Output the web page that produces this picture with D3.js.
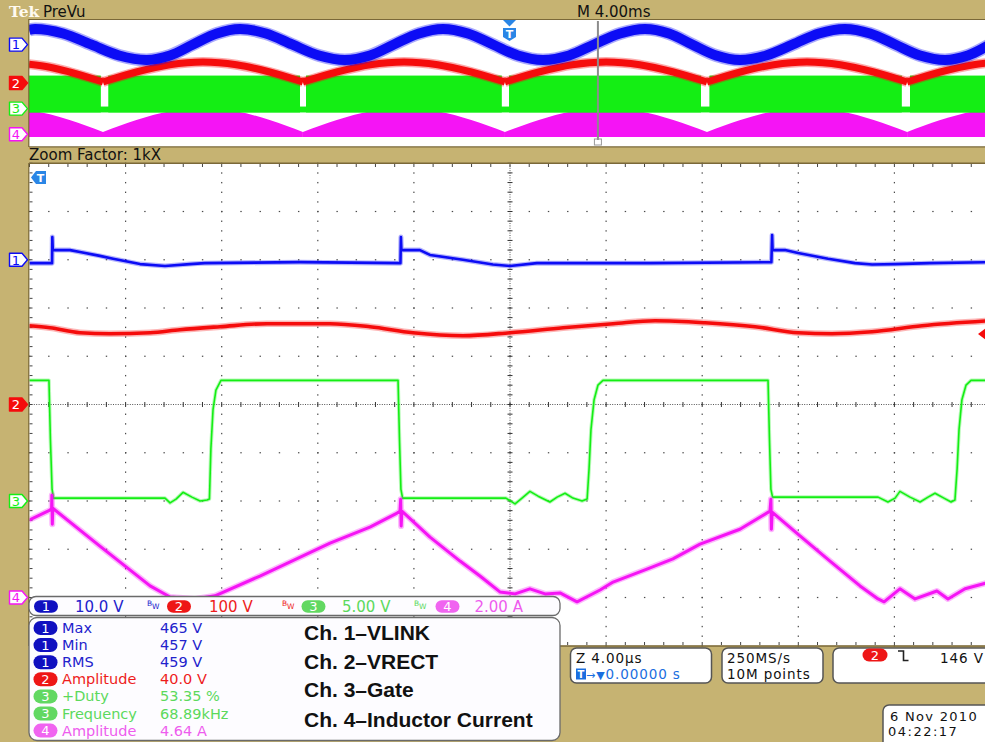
<!DOCTYPE html>
<html><head><meta charset="utf-8">
<script src="https://cdn.jsdelivr.net/npm/d3@7/dist/d3.min.js"></script>
<style>
html,body{margin:0;padding:0;background:#c6b372;overflow:hidden}
svg{display:block}
text{font-family:"DejaVu Sans",sans-serif}
</style></head><body>
<svg id="scope" width="985" height="742"></svg>
<script>
// ================= DATA =================
const channelNames  = ["1", "2", "3", "4"];
const channelScale  = [10, 100, 5, 2];        // units per division
const channelUnit   = ["V", "V", "V", "A"];
const channelPos    = [3, 0, -2, -4];         // marker position (divisions)
const channelOffset = [459.5, 0, 0, 0];       // value at the marker
const mainDivUs = 4;      // Z 4.00 µs/div
const prevDivMs = 4;      // M 4.00 ms/div
const zoomPosMs = 3.68;   // zoom window position in the record
const trigLevelV = 146;   // ch2 trigger level

// ---- zoomed traces: time (µs) and value ----
const ch1T = [-20.02,-19.06,-19.05,-19.03,-18.31,-17.90,-17.07,-16.52,-15.40,-14.36,-13.32,-12.70,-8.74,-4.56,-4.54,-4.52,-3.75,-3.33,-1.96,-0.71,0,1.12,5.83,10.88,10.91,10.93,11.45,11.99,13.24,14.36,15.07,16.03,17.48,19.98];
const ch1V = [458.8,458.8,464.2,461.5,461.5,461.1,460.3,459.7,458.6,458.2,458.6,458.8,459.0,458.8,464.2,461.5,461.5,460.5,459.5,458.5,458.2,458.8,458.8,459.0,464.6,461.5,461.5,460.9,459.7,458.8,458.5,458.6,458.8,459.0];

const ch2T = [-20.02,-19.15,-17.90,-16.65,-14.98,-13.74,-12.07,-10.11,-7.49,-5.83,-4.04,-1.96,0,2.21,4.29,6.04,8.12,10.20,11.99,13.40,15.07,17.15,19.98];
const ch2V = [163.2,159.1,148.8,146.7,148.8,155.0,161.2,167.4,167.4,161.2,148.8,142.6,148.8,159.1,167.4,173.6,169.4,161.2,148.8,146.7,150.8,163.2,173.6];

const ch3T = [-20.02,-19.19,-19.13,-19.06,-19.00,-14.36,-14.15,-13.90,-13.61,-13.24,-12.90,-12.61,-12.51,-12.45,-12.36,-12.24,-12.03,-4.66,-4.60,-4.54,-4.47,-0.17,0.21,0.50,0.83,1.17,1.66,1.96,2.29,2.62,3.00,3.21,3.29,3.37,3.50,3.66,3.87,10.74,10.80,10.86,10.93,15.32,15.73,16.03,16.23,16.65,17.07,17.40,17.69,18.06,18.36,18.52,18.61,18.69,18.81,18.98,19.19,19.98];
const ch3V = [12.5,12.5,6.4,1.2,0.3,0.3,-0.2,0.2,0.9,0.4,0.0,0.1,0.2,5.4,9.5,11.5,12.5,12.5,6.4,1.2,0.3,0.3,-0.3,0.3,1.0,0.5,-0.1,0.4,0.8,0.3,0.0,0.2,3.3,7.4,10.5,12.0,12.5,12.5,6.4,1.2,0.4,0.4,-0.1,0.3,1.0,0.4,-0.1,0.4,0.8,0.3,-0.1,0.1,3.3,7.4,10.5,12.0,12.5,12.5];

const ch4T = [-20.02,-19.15,-19.08,-19.07,-19.05,-19.03,-17.07,-14.98,-14.15,-13.11,-12.28,-10.41,-7.49,-5.83,-4.70,-4.58,-4.55,-4.53,-4.50,-3.33,-2.08,-1.25,-0.42,0.21,0.83,1.46,2.08,2.79,3.75,4.29,5.70,6.78,7.91,9.57,10.82,10.86,10.88,10.91,12.07,13.32,14.57,15.32,15.57,16.23,16.86,17.77,18.23,18.94,19.98];
const ch4A = [3.21,3.62,3.70,4.24,3.04,3.70,2.13,0.48,0.02,-0.06,0.07,0.89,2.25,2.92,3.50,3.58,4.07,2.96,3.58,2.50,1.51,0.89,0.23,0.15,0.36,0.15,0.19,-0.18,0.31,0.64,1.18,1.60,2.21,2.83,3.58,4.07,2.83,3.54,2.55,1.51,0.48,-0.06,-0.18,0.36,-0.06,0.27,-0.06,0.36,0.64];

// ---- PreVu (whole record): time (ms) and value ----
const prevBlueT = [-20.00,-19.75,-18.58,-17.42,-16.25,-15.09,-14.13,-13.17,-12.18,-11.22,-10.14,-9.05,-7.93,-6.85,-5.81,-4.81,-3.77,-2.77,-1.73,-0.69,0.35,1.39,2.48,3.52,4.60,5.64,6.64,7.60,8.60,9.59,10.68,11.80,12.88,13.96,15.01,16.05,17.09,18.13,19.08,20.00];
const ch1PrevV = [470.9,471.7,468.2,459.6,451.0,447.5,451.0,459.6,468.2,471.7,468.2,459.6,451.0,447.5,451.0,459.6,468.2,471.7,468.2,459.6,451.0,447.5,451.0,459.6,468.2,471.7,468.2,459.6,451.0,447.5,451.0,459.6,468.2,471.7,468.2,459.6,451.0,447.5,451.0,459.6];

const prevArchT = [-20.00,-19.13,-18.31,-16.92,-15.53,-14.14,-12.76,-11.37,-9.98,-8.60,-7.19,-5.79,-4.39,-2.99,-1.59,-0.19,1.22,2.61,4.02,5.42,6.82,8.22,9.61,11.00,12.38,13.77,15.16,16.55,17.93,19.32,20.00];
const prevCusps = [-16.92,-8.60,-0.19,8.22,16.55];
const ch2PrevV  = [146,123,86,8,86,143,164,143,86,8,86,143,164,143,86,8,86,143,164,143,86,8,86,143,164,143,86,8,86,143,159];
const ch4PrevTop = [3.78,3.12,2.22,0.34,2.22,3.59,4.11,3.59,2.22,0.34,2.22,3.59,4.11,3.59,2.22,0.34,2.22,3.59,4.11,3.59,2.22,0.34,2.22,3.59,4.11,3.59,2.22,0.34,2.22,3.59,4.00];
const ch4PrevMin = -0.44;

const gateGapStart = [-17.01,-8.72,-0.32,7.97,16.33];
const gateGapEnd   = [-16.70,-8.47,-0.02,8.32,16.67];
const ch3PrevMax = 12.9, ch3PrevMin = -1.5, ch3PrevGapTop = 0.8;

// ---- measurements / readouts ----
const measCh    = [1, 1, 1, 2, 3, 3, 4];
const measName  = ["Max", "Min", "RMS", "Amplitude", "+Duty", "Frequency", "Amplitude"];
const measValue = ["465 V", "457 V", "459 V", "40.0 V", "53.35 %", "68.89kHz", "4.64 A"];
const signalLabels = ["Ch. 1\u2013VLINK", "Ch. 2\u2013VRECT", "Ch. 3\u2013Gate", "Ch. 4\u2013Inductor Current"];
const sampleRate = "250MS/s", recordLen = "10M points";
const dateText = "6 Nov 2010", timeText = "04:22:17";

// ================= DRAWING =================
const TAN = "#c6b372", EDGE = "#7a6838";
const trace = ["#0c0cf5", "#f50c0c", "#14ee14", "#f514f5"];
const txtCol = ["#2222cc", "#ee1c1c", "#5cd95c", "#ee5cee"];
const pillCol = ["#1010c0", "#ee1616", "#62d862", "#f064f0"];
const svg = d3.select("#scope");

const xMain = d3.scaleLinear().domain([-5 * mainDivUs, 5 * mainDivUs]).range([29.5, 990.5]);
const yMain = d3.scaleLinear().domain([-5, 5]).range([645.75, 163.25]);
const xPrev = d3.scaleLinear().domain([-5 * prevDivMs, 5 * prevDivMs]).range([29, 990]);
const yPrev = d3.scaleLinear().domain([-5, 5]).range([147, 19]);
const toDiv = (ch, v) => channelPos[ch] + (v - channelOffset[ch]) / channelScale[ch];
const zipd = (T, V) => T.map((t, i) => [t, V[i]]);

svg.append("rect").attr("width", 985).attr("height", 742).attr("fill", TAN);

// ---- header ----
svg.append("text").attr("x", 9).attr("y", 17).attr("font-weight", "bold")
  .attr("font-size", 15.5).attr("fill", "#fffaf0").style("font-family", "'DejaVu Serif',serif").text("Tek");
svg.append("text").attr("x", 43).attr("y", 16.5).attr("font-size", 15).attr("fill", "#111").text("PreVu");
svg.append("text").attr("x", 577).attr("y", 16.5).attr("font-size", 15).attr("fill", "#111")
  .text("M " + d3.format(".2f")(prevDivMs) + "ms");

// ---- PreVu window ----
svg.append("rect").attr("x", 29).attr("y", 19).attr("width", 960).attr("height", 128).attr("fill", "#fff");
svg.append("clipPath").attr("id", "pclip").append("rect").attr("x", 29).attr("y", 19.5).attr("width", 960).attr("height", 127);
const pg = svg.append("g").attr("clip-path", "url(#pclip)");

function splitArches(T, V) {
  const segs = []; let cur = [];
  T.forEach((t, i) => { cur.push([t, V[i]]); if (prevCusps.includes(t)) { segs.push(cur); cur = [[t, V[i]]]; } });
  segs.push(cur); return segs;
}
// ch4 envelope
const areaP4 = d3.area().x(d => xPrev(d[0])).y0(yPrev(toDiv(3, ch4PrevMin))).y1(d => yPrev(toDiv(3, d[1]))).curve(d3.curveMonotoneX);
splitArches(prevArchT, ch4PrevTop).forEach(s => pg.append("path").attr("d", areaP4(s)).attr("fill", trace[3]));
// ch3 envelope
const gateOn = [[-5 * prevDivMs, gateGapStart[0]]];
gateGapEnd.forEach((e, i) => gateOn.push([e, i + 1 < gateGapStart.length ? gateGapStart[i + 1] : 5 * prevDivMs]));
gateOn.forEach(s => pg.append("rect").attr("x", xPrev(s[0])).attr("width", xPrev(s[1]) - xPrev(s[0]))
  .attr("y", yPrev(toDiv(2, ch3PrevMax))).attr("height", yPrev(toDiv(2, ch3PrevMin)) - yPrev(toDiv(2, ch3PrevMax))).attr("fill", trace[2]));
pg.append("rect").attr("x", xPrev(-5 * prevDivMs)).attr("width", xPrev(5 * prevDivMs) - xPrev(-5 * prevDivMs))
  .attr("y", yPrev(toDiv(2, ch3PrevGapTop))).attr("height", yPrev(toDiv(2, ch3PrevMin)) - yPrev(toDiv(2, ch3PrevGapTop))).attr("fill", trace[2]);
// ch2 band
const lineP2 = d3.line().x(d => xPrev(d[0])).y(d => yPrev(toDiv(1, d[1]))).curve(d3.curveMonotoneX);
splitArches(prevArchT, ch2PrevV).forEach(s => {
  pg.append("path").attr("d", lineP2(s)).attr("fill", "none").attr("stroke", trace[1]).attr("stroke-width", 10).attr("stroke-opacity", 0.35);
  pg.append("path").attr("d", lineP2(s)).attr("fill", "none").attr("stroke", trace[1]).attr("stroke-width", 7);
});
// ch1 band
const lineP1 = d3.line().x(d => xPrev(d[0])).y(d => yPrev(toDiv(0, d[1]))).curve(d3.curveCatmullRom);
pg.append("path").attr("d", lineP1(zipd(prevBlueT, ch1PrevV))).attr("fill", "none").attr("stroke", trace[0]).attr("stroke-width", 13).attr("stroke-opacity", 0.35);
pg.append("path").attr("d", lineP1(zipd(prevBlueT, ch1PrevV))).attr("fill", "none").attr("stroke", trace[0]).attr("stroke-width", 10);
// zoom position cursor
const zx = xPrev(zoomPosMs);
svg.append("line").attr("x1", zx).attr("x2", zx).attr("y1", 21).attr("y2", 140).attr("stroke", "#8c8c8c").attr("stroke-width", 2);
svg.append("rect").attr("x", zx - 3.5).attr("y", 139).attr("width", 7).attr("height", 6).attr("fill", "none").attr("stroke", "#999").attr("stroke-width", 1);
// preview borders
svg.append("line").attr("x1", 29).attr("x2", 985).attr("y1", 19.5).attr("y2", 19.5).attr("stroke", EDGE).attr("stroke-width", 1.2);
svg.append("line").attr("x1", 29).attr("x2", 985).attr("y1", 146.8).attr("y2", 146.8).attr("stroke", EDGE).attr("stroke-width", 1.2);
svg.append("line").attr("x1", 28.8).attr("x2", 28.8).attr("y1", 19).attr("y2", 147).attr("stroke", EDGE).attr("stroke-width", 1.2);
// trigger marker in preview
const tx = xPrev(0), TBLUE = "#2a86e6";
svg.append("path").attr("d", `M${tx - 6.5},20 L${tx + 6.5},20 L${tx},26.5 Z`).attr("fill", TBLUE);
svg.append("path").attr("d", `M${tx - 6.5},28 H${tx + 6.5} V37 L${tx},41 L${tx - 6.5},37 Z`).attr("fill", TBLUE);
svg.append("text").attr("x", tx).attr("y", 37.5).attr("text-anchor", "middle").attr("font-size", 11).attr("font-weight", "bold").attr("fill", "#fff").text("T");

// ---- Zoom factor label ----
svg.append("text").attr("x", 29).attr("y", 160).attr("font-size", 15).attr("fill", "#111").text("Zoom Factor: 1kX");

// ---- main graticule ----
svg.append("rect").attr("x", 29).attr("y", 163.25).attr("width", 960).attr("height", 482.5).attr("fill", "#fff");
const gg = svg.append("g");
const DOT = "#4a4a4a";
const tMinor = d3.range(-5 * mainDivUs, 5 * mainDivUs + 0.01, mainDivUs / 5);
const dMinor = d3.range(-5, 5.001, 0.2);
d3.range(1, 10).filter(k => k !== 5).forEach(k => {
  const x = xMain(-5 * mainDivUs + k * mainDivUs);
  dMinor.forEach(d => gg.append("rect").attr("x", x - 0.6).attr("y", yMain(d) - 0.6).attr("width", 1.2).attr("height", 1.4).attr("fill", DOT));
  const y = yMain(-5 + k);
  tMinor.forEach(t => gg.append("rect").attr("x", xMain(t) - 0.6).attr("y", y - 0.6).attr("width", 1.4).attr("height", 1.2).attr("fill", DOT));
});
// center cross
const cx0 = xMain(0), cy0 = yMain(0);
gg.append("line").attr("x1", 29).attr("x2", 990).attr("y1", cy0).attr("y2", cy0).attr("stroke", "#555").attr("stroke-width", 1).attr("stroke-dasharray", "1,1.4");
gg.append("line").attr("x1", cx0).attr("x2", cx0).attr("y1", 163).attr("y2", 646).attr("stroke", "#555").attr("stroke-width", 1).attr("stroke-dasharray", "1,1.4");
tMinor.forEach(t => gg.append("line").attr("x1", xMain(t)).attr("x2", xMain(t)).attr("y1", cy0 - 2.5).attr("y2", cy0 + 2.5).attr("stroke", "#333").attr("stroke-width", 1));
dMinor.forEach(d => gg.append("line").attr("x1", cx0 - 2.5).attr("x2", cx0 + 2.5).attr("y1", yMain(d)).attr("y2", yMain(d)).attr("stroke", "#333").attr("stroke-width", 1));
// edge ticks
tMinor.forEach(t => {
  gg.append("line").attr("x1", xMain(t)).attr("x2", xMain(t)).attr("y1", 164).attr("y2", 167).attr("stroke", "#444").attr("stroke-width", 1);
  gg.append("line").attr("x1", xMain(t)).attr("x2", xMain(t)).attr("y1", 642).attr("y2", 645).attr("stroke", "#444").attr("stroke-width", 1);
});
dMinor.forEach(d => gg.append("line").attr("x1", 29.5).attr("x2", 32.5).attr("y1", yMain(d)).attr("y2", yMain(d)).attr("stroke", "#444").attr("stroke-width", 1));

// ---- zoomed traces ----
svg.append("clipPath").attr("id", "mclip").append("rect").attr("x", 29.5).attr("y", 163.8).attr("width", 960).attr("height", 481.5);
const mg = svg.append("g").attr("clip-path", "url(#mclip)");
const mainSeries = [[ch1T, ch1V, d3.curveLinear, 2.6, 5], [ch2T, ch2V, d3.curveMonotoneX, 3.6, 6.5], [ch3T, ch3V, d3.curveLinear, 1.6, 3.6], [ch4T, ch4A, d3.curveLinear, 3, 6]];
mainSeries.forEach((s, ch) => {
  const ln = d3.line().x(d => xMain(d[0])).y(d => yMain(toDiv(ch, d[1]))).curve(s[2]);
  const dd = ln(zipd(s[0], s[1]));
  mg.append("path").attr("d", dd).attr("fill", "none").attr("stroke", trace[ch]).attr("stroke-width", s[4]).attr("stroke-opacity", 0.3).attr("stroke-linejoin", "round");
  mg.append("path").attr("d", dd).attr("fill", "none").attr("stroke", trace[ch]).attr("stroke-width", s[3]).attr("stroke-linejoin", "round");
});
// trigger level marker (right edge)
const tly = yMain(toDiv(1, trigLevelV));
svg.append("path").attr("d", `M978,${tly} L986,${tly - 6} L986,${tly + 6} Z`).attr("fill", trace[1]);
// main borders
svg.append("line").attr("x1", 29).attr("x2", 985).attr("y1", 163.3).attr("y2", 163.3).attr("stroke", EDGE).attr("stroke-width", 1.5);
svg.append("line").attr("x1", 29).attr("x2", 985).attr("y1", 645.9).attr("y2", 645.9).attr("stroke", EDGE).attr("stroke-width", 1.5);
svg.append("line").attr("x1", 28.8).attr("x2", 28.8).attr("y1", 163).attr("y2", 646).attr("stroke", EDGE).attr("stroke-width", 1.2);
// main trigger-position marker
svg.append("path").attr("d", "M46,171 H36 L31,177.5 L36,184 H46 Z").attr("fill", TBLUE);
svg.append("text").attr("x", 40.5).attr("y", 182).attr("text-anchor", "middle").attr("font-size", 11).attr("font-weight", "bold").attr("fill", "#fff").text("T");

// ---- channel markers on the left ----
function marker(yc, ch) {
  const filled = ch === 1;
  svg.append("path").attr("d", `M9.5,${yc - 6.5} H22 L27.5,${yc} L22,${yc + 6.5} H9.5 Z`)
    .attr("fill", filled ? trace[ch] : "#fff").attr("stroke", trace[ch]).attr("stroke-width", 1.4).attr("stroke-linejoin", "round");
  svg.append("text").attr("x", 16).attr("y", yc + 4.8).attr("text-anchor", "middle").attr("font-size", 13)
    .attr("fill", filled ? "#fff" : trace[ch]).text(channelNames[ch]);
}
channelNames.forEach((n, ch) => { marker(yPrev(channelPos[ch]), ch); marker(yMain(channelPos[ch]), ch); });

// ---- channel settings bar ----
function pill(cx, cy, ch, w, h) {
  svg.append("rect").attr("x", cx - w / 2).attr("y", cy - h / 2).attr("width", w).attr("height", h).attr("rx", h / 2).attr("fill", pillCol[ch]);
  svg.append("text").attr("x", cx).attr("y", cy + 4.6).attr("text-anchor", "middle").attr("font-size", 13).attr("fill", "#fff").text(channelNames[ch]);
}
svg.append("rect").attr("x", 29).attr("y", 596.5).attr("width", 531).attr("height", 19).attr("rx", 7).attr("fill", "#fdfcff").attr("stroke", "#6a6a6a").attr("stroke-width", 1.3);
const barPillX = [46, 179, 313.5, 447.5], barTextX = [75, 209, 342, 474.5], bwX = [147, 282, 414];
channelNames.forEach((n, ch) => {
  pill(barPillX[ch], 606.5, ch, 24, 12.5);
  svg.append("text").attr("x", barTextX[ch]).attr("y", 611.5).attr("font-size", 15).attr("fill", txtCol[ch])
    .text(d3.format(".3r")(channelScale[ch]) + " " + channelUnit[ch]);
});
bwX.forEach((x, i) => {
  const t = svg.append("text").attr("x", x).attr("y", 606).attr("font-size", 7.5).attr("fill", txtCol[i]);
  t.append("tspan").text("B");
  t.append("tspan").attr("dy", 3).text("W");
});

// ---- measurement box ----
svg.append("rect").attr("x", 29).attr("y", 617.5).attr("width", 531).attr("height", 123).attr("rx", 8).attr("fill", "#fdfcff").attr("stroke", "#6a6a6a").attr("stroke-width", 1.3);
measName.forEach((nm, i) => {
  const ch = measCh[i] - 1, by = 633 + i * 17.1;
  pill(45.5, by - 5, ch, 24, 14);
  svg.append("text").attr("x", 62).attr("y", by).attr("font-size", 14.5).attr("fill", txtCol[ch]).text(nm);
  svg.append("text").attr("x", 160).attr("y", by).attr("font-size", 14.5).attr("fill", txtCol[ch]).text(measValue[i]);
});
const labelY = [640, 668.5, 697, 727];
signalLabels.forEach((s, i) => svg.append("text").attr("x", 304).attr("y", labelY[i]).style("font-family", "'Liberation Sans',Arial,sans-serif")
  .attr("font-weight", "bold").attr("font-size", 21).attr("fill", "#111").text(s));

// ---- bottom-right readouts ----
function box(x, y, w, h) {
  svg.append("rect").attr("x", x).attr("y", y).attr("width", w).attr("height", h).attr("rx", 6).attr("fill", "#fff").attr("stroke", "#555").attr("stroke-width", 1.5);
}
box(570.5, 648, 141, 35); box(722, 648, 101, 35); box(833, 648, 170, 35); box(883, 705, 120, 50);
const small = (x, y, s, col) => svg.append("text").attr("x", x).attr("y", y).attr("font-size", 13.5)
  .attr("letter-spacing", 0.9).attr("fill", col || "#111").text(s);
small(576, 662.5, "Z " + d3.format(".2f")(mainDivUs) + "\u00b5s");
svg.append("rect").attr("x", 576).attr("y", 668.5).attr("width", 10).attr("height", 11).attr("fill", "#1a6ee0");
svg.append("text").attr("x", 581).attr("y", 678).attr("text-anchor", "middle").attr("font-size", 10).attr("font-weight", "bold").attr("fill", "#fff").text("T");
const tt = svg.append("text").attr("x", 586).attr("y", 678.5).attr("font-size", 13.5).attr("letter-spacing", 0.9).attr("fill", "#1a6ee0");
tt.append("tspan").attr("font-size", 11).text("\u2192");
tt.append("tspan").attr("font-size", 11).text("\u25bc");
tt.append("tspan").text("0.00000 s");
small(727, 662.5, sampleRate);
small(727, 678.5, recordLen);
pill(875, 655, 1, 25, 13);
svg.append("path").attr("d", "M898,651 H903.5 V660.5 H908.5").attr("fill", "none").attr("stroke", "#222").attr("stroke-width", 1.6);
small(940, 662.5, trigLevelV + " V");
svg.append("text").attr("x", 890).attr("y", 720.5).attr("font-size", 13).attr("letter-spacing", 1.3).attr("fill", "#111").text(dateText);
svg.append("text").attr("x", 888).attr("y", 736).attr("font-size", 13).attr("letter-spacing", 1.5).attr("fill", "#111").text(timeText);
</script>
</body></html>
